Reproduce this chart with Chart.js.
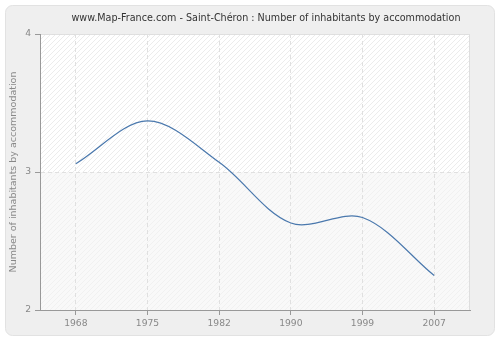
<!DOCTYPE html>
<html>
<head>
<meta charset="utf-8">
<script src="https://cdn.jsdelivr.net/npm/chart.js@4/dist/chart.umd.min.js"></script>
<style>
html,body{margin:0;padding:0;background:#fff;}
#wrap{width:500px;height:340px;position:relative;}
</style>
</head>
<body>
<div id="wrap"><canvas id="c" width="500" height="340"></canvas></div>
<script>
const titleText = "www.Map-France.com - Saint-Chéron : Number of inhabitants by accommodation";
const yAxisTitle = "Number of inhabitants by accommodation";
const years = ["1968", "1975", "1982", "1990", "1999", "2007"];
const inhabitantsPerHome = [3.06, 3.37, 3.07, 2.63, 2.67, 2.25];
const yTicks = [2, 3, 4];

const FONT = "'DejaVu Sans', sans-serif";

function makePattern(ctx, bg, fg) {
  const c = document.createElement('canvas');
  c.width = 5; c.height = 5;
  const g = c.getContext('2d');
  g.fillStyle = bg; g.fillRect(0, 0, 5, 5);
  g.strokeStyle = fg; g.lineWidth = 1;
  g.beginPath();
  g.moveTo(-1, 6); g.lineTo(6, -1);
  g.moveTo(-6, 6); g.lineTo(1, -1);
  g.moveTo(4, 6); g.lineTo(11, -1);
  g.stroke();
  return ctx.createPattern(c, 'repeat');
}

const bgPlugin = {
  id: 'bgPlugin',
  beforeDraw(chart) {
    const ctx = chart.ctx;
    const {left, right, top, bottom} = chart.chartArea;
    ctx.save();
    ctx.fillStyle = '#ffffff';
    ctx.fillRect(0, 0, chart.width, chart.height);
    ctx.beginPath();
    ctx.roundRect(5.5, 5.5, 489, 330, 7);
    ctx.fillStyle = '#efefef';
    ctx.fill();
    ctx.strokeStyle = '#e2e2e2';
    ctx.lineWidth = 1;
    ctx.stroke();
    const ys = chart.scales.y;
    const y3 = ys.getPixelForValue(3);
    ctx.fillStyle = makePattern(ctx, '#ffffff', '#ececec');
    ctx.fillRect(left, top, right - left, y3 - top);
    ctx.fillStyle = makePattern(ctx, '#f9f9f9', '#f1f1f1');
    ctx.fillRect(left, y3, right - left, bottom - y3);
    ctx.strokeStyle = '#dedede';
    ctx.beginPath();
    ctx.moveTo(left, top + 0.5); ctx.lineTo(right - 0.5, top + 0.5); ctx.lineTo(right - 0.5, bottom);
    ctx.stroke();
    ctx.fillStyle = '#333333';
    ctx.font = "9.6px " + FONT;
    ctx.textAlign = 'center';
    ctx.textBaseline = 'middle';
    ctx.fillText(titleText, 266, 18);
    ctx.restore();
  }
};

new Chart(document.getElementById('c'), {
  type: 'line',
  data: {
    labels: years,
    datasets: [{
      data: inhabitantsPerHome,
      borderColor: '#4a78ad',
      borderWidth: 1.2,
      pointRadius: 0,
      fill: false,
      tension: 0.33
    }]
  },
  options: {
    responsive: false,
    animation: false,
    devicePixelRatio: 1,
    layout: {padding: {left: 0, right: 30, top: 34, bottom: 0}},
    plugins: {legend: {display: false}, title: {display: false}, tooltip: {enabled: false}},
    scales: {
      x: {
        type: 'category',
        offset: true,
        afterFit(s) { s.height = 30; },
        border: {display: true, color: '#999999', width: 1, dash: [4, 3]},
        grid: {
          offset: false,
          color: '#e0e0e0',
          lineWidth: 1,
          drawTicks: true,
          tickLength: 5,
          tickColor: '#999999',
          tickBorderDash: []
        },
        ticks: {color: '#888888', font: {family: FONT, size: 9.2}, padding: 3, maxRotation: 0}
      },
      y: {
        min: 2, max: 4,
        afterBuildTicks(s) { s.ticks = yTicks.map(v => ({value: v})); },
        afterFit(s) { s.width = 40; },
        border: {display: true, color: '#999999', width: 1, dash: [4, 3]},
        grid: {
          color: '#e0e0e0',
          lineWidth: 1,
          drawTicks: true,
          tickLength: 5,
          tickColor: '#999999',
          tickBorderDash: []
        },
        ticks: {color: '#888888', font: {family: FONT, size: 9.2}, padding: 4},
        title: {
          display: true,
          text: yAxisTitle,
          color: '#888888',
          font: {family: FONT, size: 9.5},
          padding: {top: 8, bottom: 0}
        }
      }
    }
  },
  plugins: [bgPlugin]
});
</script>
</body>
</html>
